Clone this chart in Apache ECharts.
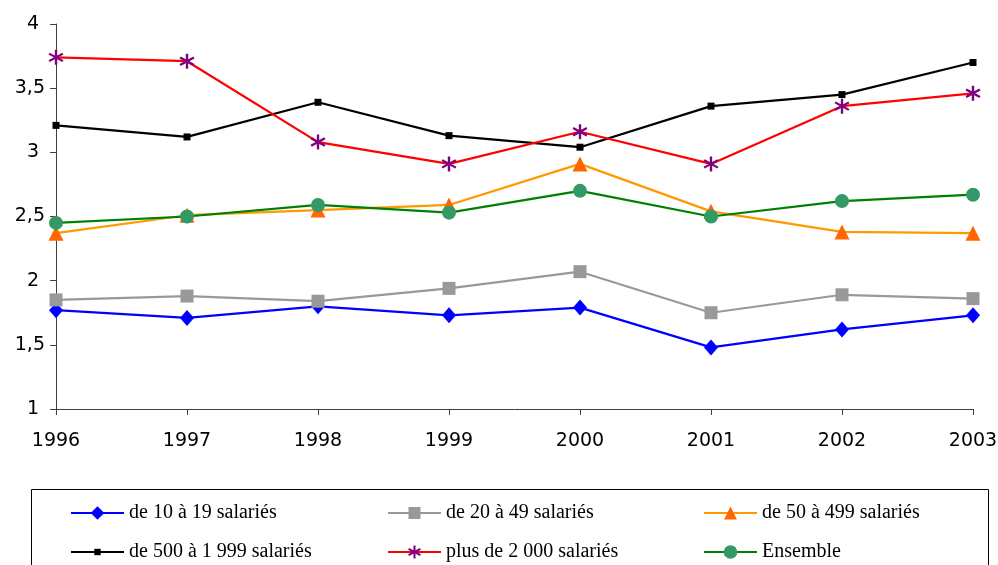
<!DOCTYPE html>
<html><head><meta charset="utf-8">
<script src="https://cdn.jsdelivr.net/npm/echarts@6/dist/echarts.min.js"></script>
<style>html,body{margin:0;padding:0;background:#fff}#c{width:998px;height:565px}</style>
</head><body><div id="c"></div>
<script>
const years = ['1996','1997','1998','1999','2000','2001','2002','2003'];
const yTicks = [1, 1.5, 2, 2.5, 3, 3.5, 4];
const names = ['de 10 à 19 salariés','de 20 à 49 salariés','de 50 à 499 salariés','de 500 à 1 999 salariés','plus de 2 000 salariés','Ensemble'];
const s10_19 = [1.77, 1.71, 1.80, 1.73, 1.79, 1.48, 1.62, 1.73];
const s20_49 = [1.85, 1.88, 1.84, 1.94, 2.07, 1.75, 1.89, 1.86];
const s50_499 = [2.37, 2.51, 2.55, 2.59, 2.91, 2.54, 2.38, 2.37];
const s500_1999 = [3.21, 3.12, 3.39, 3.13, 3.04, 3.36, 3.45, 3.70];
const s2000plus = [3.74, 3.71, 3.08, 2.91, 3.16, 2.91, 3.36, 3.46];
const sAll = [2.45, 2.50, 2.59, 2.53, 2.70, 2.50, 2.62, 2.67];

const asterisk = 'path://M-1.5,-10 L1.5,-10 L1.5,10 L-1.5,10 Z M7.91,-6.3 L9.41,-3.7 L-7.91,6.3 L-9.41,3.7 Z M-9.41,-3.7 L-7.91,-6.3 L9.41,3.7 L7.91,6.3 Z';

const styles = [
  {data: s10_19, line: '#0000FF', mark: '#0000FF', symbol: 'diamond', size: [14, 16], leg: 17},
  {data: s20_49, line: '#999999', mark: '#999999', symbol: 'rect', size: 13, leg: 15},
  {data: s50_499, line: '#FF9900', mark: '#FF6600', symbol: 'triangle', size: 15, leg: 16},
  {data: s500_1999, line: '#000000', mark: '#000000', symbol: 'rect', size: 7, leg: 8},
  {data: s2000plus, line: '#FF0000', mark: '#800080', symbol: asterisk, size: 15, leg: 16},
  {data: sAll, line: '#008000', mark: '#339966', symbol: 'circle', size: 14, leg: 17}
];

const series = styles.map((s, i) => ({
  name: names[i], type: 'line', data: s.data,
  symbol: s.symbol, symbolSize: s.size, showSymbol: true,
  lineStyle: {color: s.line, width: 2.2},
  itemStyle: {color: s.mark, borderWidth: 0},
  emphasis: {disabled: true}, animation: false, z: 2 + i
}));

const legPos = [[70,513],[387,513],[703,513],[70,552],[387,552],[703,552]];
const legends = names.map((n, i) => {
  const h = styles[i].leg;
  return {
    data: [n], left: legPos[i][0], top: legPos[i][1] - Math.max(h, 22) / 2, padding: 0,
    itemWidth: 53, itemHeight: h, itemGap: 0,
    textStyle: {fontFamily: 'Liberation Serif', fontSize: 20, color: '#000', lineHeight: 22},
    selectedMode: false
  };
});

const chart = echarts.init(document.getElementById('c'));
chart.setOption({
  animation: false,
  backgroundColor: '#fff',
  grid: {left: 56, right: 25, top: 24, bottom: 156, containLabel: false, outerBoundsMode: 'none'},
  legend: legends,
  graphic: [{type: 'rect', shape: {x: 31.5, y: 489.5, width: 957, height: 80}, style: {fill: 'none', stroke: '#000', lineWidth: 1}, silent: true}],
  xAxis: {
    type: 'category', data: years, boundaryGap: false,
    axisLine: {lineStyle: {color: '#404040', width: 1}},
    axisTick: {show: true, length: 6, lineStyle: {color: '#404040'}},
    axisLabel: {fontFamily: 'DejaVu Sans', fontSize: 19, color: '#000', margin: 23}
  },
  yAxis: {
    type: 'value', min: yTicks[0], max: yTicks[yTicks.length-1], interval: 0.5,
    axisLine: {show: true, lineStyle: {color: '#404040', width: 1}},
    axisTick: {show: true, length: 6, lineStyle: {color: '#404040'}},
    splitLine: {show: false},
    axisLabel: {fontFamily: 'DejaVu Sans', fontSize: 19, color: '#000', margin: 11,
      formatter: v => Number.isInteger(v) ? '{i|' + v + '}' : String(v).replace('.', ','),
      rich: {i: {fontFamily: 'DejaVu Sans', fontSize: 19, color: '#000', padding: [0, 6, 0, 0]}}}
  },
  series: series
});
</script></body></html>
